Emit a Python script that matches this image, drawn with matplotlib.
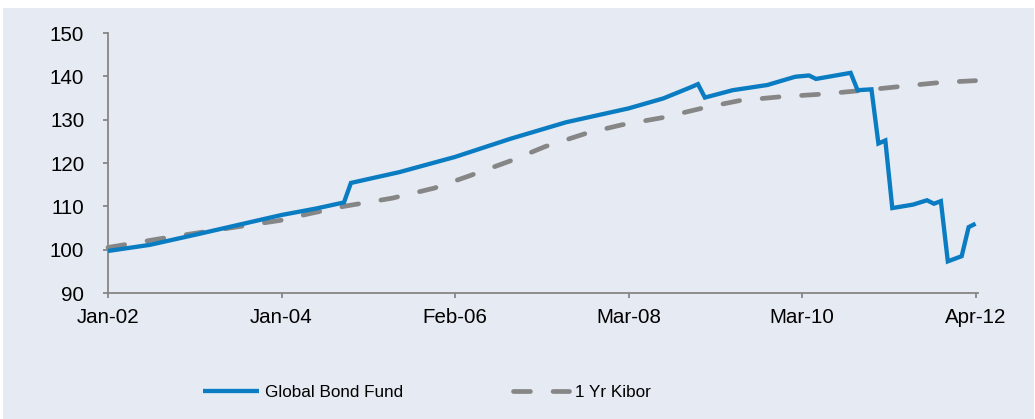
import matplotlib
matplotlib.use('Agg')
import matplotlib.pyplot as plt
from matplotlib.patches import Rectangle

# meses contados desde Jan-02 (0 = Jan-02)
meses_fondo = [0, 6, 13, 19, 25, 30, 34, 35, 42, 50, 58, 66, 75, 80, 84, 85, 86, 90, 95,
               99, 101, 102, 107, 108, 110, 111, 112, 113, 116, 118, 119, 120, 121, 123, 124, 125]
fondo = [99.7, 101.1, 103.6, 105.8, 108.0, 109.5, 110.9, 115.4, 117.9, 121.4, 125.6, 129.4,
         132.6, 134.9, 137.5, 138.2, 135.1, 136.8, 138.0, 139.9, 140.2, 139.4, 140.8, 136.8,
         137.0, 124.5, 125.2, 109.6, 110.4, 111.4, 110.6, 111.2, 97.3, 98.5, 105.2, 106.0]

meses_kibor = [0, 7, 13, 25, 29, 34, 41, 47, 52, 58, 63, 69, 74, 80, 86, 91, 97, 103, 109,
               115, 120, 125]
kibor = [100.5, 102.4, 103.9, 106.8, 108.3, 110.0, 111.9, 114.2, 117.0, 120.5, 123.8, 126.9,
         128.8, 130.5, 132.8, 134.4, 135.3, 135.9, 136.8, 137.8, 138.6, 139.0]

pos_ticks = [0, 25, 50, 75, 100, 125]
etiquetas = ['Jan-02', 'Jan-04', 'Feb-06', 'Mar-08', 'Mar-10', 'Apr-12']
nombres = ['Global Bond Fund', '1 Yr Kibor']

azul = '#0a7cc2'
gris = '#868686'
fondo_color = '#e6eaf3'

plt.rcParams['font.family'] = ['Liberation Sans', 'DejaVu Sans']
plt.rcParams['lines.scale_dashes'] = False

fig = plt.figure(figsize=(10.35, 4.19), dpi=100, facecolor='white')
# recuadro gris-azulado detras de todo
fig.patches.append(Rectangle((3 / 1035, 0), 1031 / 1035, 411 / 419, transform=fig.transFigure,
                             facecolor=fondo_color, edgecolor='none', zorder=-1))

ax = fig.add_axes([108 / 1035, 126 / 419, 870 / 1035, 260 / 419])
ax.set_facecolor('none')

ax.plot(meses_fondo, fondo, color=azul, lw=3.1, solid_joinstyle='miter',
        solid_capstyle='butt', clip_on=False, label=nombres[0], zorder=3)
ax.plot(meses_kibor, kibor, color=gris, lw=3.4, ls=(0, (12.2, 16.3)),
        dash_capstyle='round', clip_on=False, label=nombres[1], zorder=2)

ax.set_xlim(0, 125.35)
ax.set_ylim(90, 150)
ax.set_yticks(range(90, 151, 10))
ax.set_xticks(pos_ticks)
ax.set_xticklabels(etiquetas)

for lado in ['top', 'right']:
    ax.spines[lado].set_visible(False)
for lado in ['left', 'bottom']:
    ax.spines[lado].set_color(gris)
    ax.spines[lado].set_linewidth(1.3)

ax.tick_params(axis='y', direction='out', length=3.6, width=1.3, color=gris,
               labelsize=14.8, pad=13.5, labelcolor='black')
ax.tick_params(axis='x', direction='out', length=3.6, width=1.3, color=gris,
               labelsize=14.8, pad=7, labelcolor='black')

fig.legend(loc='center', bbox_to_anchor=(427 / 1035, 27 / 419), ncol=2, frameon=False,
           fontsize=12.3, handlelength=3.3, handletextpad=0.35, columnspacing=6.4)

fig.savefig('out.png', dpi=100, facecolor='white')
